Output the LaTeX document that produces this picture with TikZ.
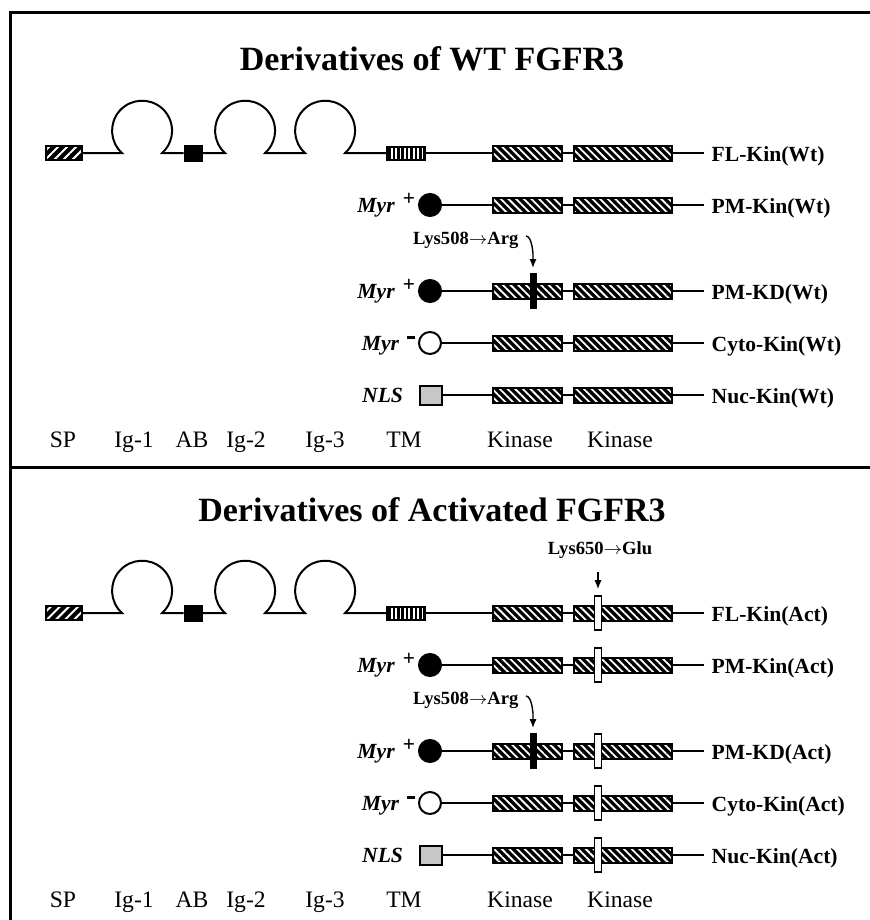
\documentclass[tikz,border=0pt]{standalone}
\usepackage{fontspec}
\setmainfont{Liberation Serif}
\usetikzlibrary{patterns.meta,arrows.meta}

\begin{document}
\begin{tikzpicture}[x=0.5pt, y=-0.5pt, line width=1pt, >={Latex[length=4.5pt,width=3.6pt]},
    kin/.style={draw, inner sep=0pt, minimum height=7.5pt, preaction={fill=black},
      preaction={pattern={Lines[angle=-45,distance=2.7pt,line width=0.9pt]}, pattern color=white}},
    spbox/.style={draw, inner sep=0pt, minimum width=18pt, minimum height=7pt, preaction={fill=black},
      preaction={pattern={Lines[angle=45,distance=3.2pt,line width=1pt]}, pattern color=white}},
    tmbox/.style={draw, inner sep=0pt, minimum width=19pt, minimum height=6.5pt, preaction={fill=black},
      preaction={pattern={Lines[angle=90,distance=2.2pt,line width=0.9pt]}, pattern color=white}},
    abbox/.style={draw, fill=black, inner sep=0pt, minimum width=8.5pt, minimum height=7.5pt},
    nlsbox/.style={draw, fill=black!22, inner sep=0pt, minimum width=11pt, minimum height=9.5pt},
    myr/.style={circle, draw, inner sep=0pt, minimum size=11pt},
    kdbar/.style={fill=black, inner sep=0pt, minimum width=3.5pt, minimum height=18pt},
    wbar/.style={draw, fill=white, line width=0.8pt, inner sep=0pt, minimum width=3.5pt, minimum height=17pt},
    lab/.style={anchor=base west, font=\bfseries\fontsize{10.8}{12}\selectfont},
    mod/.style={anchor=base east, inner sep=0pt, font=\bfseries\itshape\fontsize{10.8}{12}\selectfont},
    mut/.style={font=\bfseries\fontsize{9.3}{11}\selectfont},
    dlab/.style={anchor=base, font=\fontsize{11.8}{13}\selectfont},
    title/.style={font=\bfseries\fontsize{17}{20}\selectfont}]
  \useasboundingbox (0,0) rectangle (870,920);
  % frame
  \draw[line width=1.5pt] (870,13) -- (10,13) -- (10,921);
  \draw[line width=1.5pt] (10,467) -- (870,467);
  \foreach \s/\dy/\hd/\lbl/\ty in {w/0/WT/Wt/59, a/460/Activated/Act/50} {
    \begin{scope}[shift={(0,\dy)}]
      \node[title] (ttl\s) at (432,\ty) {Derivatives of \hd\ FGFR3};
      % full length receptor
      \node[spbox] (sp\s) at (64,153) {};
      \node[abbox] (ab\s) at (193,153) {};
      \node[tmbox] (tm\s) at (406,153) {};
      \coordinate (ig1\s) at (122,153);
      \coordinate (ig2\s) at (225,153);
      \coordinate (ig3\s) at (305,153);
      \draw (sp\s.east) -- (ig1\s) arc[start angle=132, end angle=408, radius=30] -- (ab\s.west);
      \draw (ab\s.east) -- (ig2\s) arc[start angle=132, end angle=408, radius=30]
        -- (ig3\s) arc[start angle=132, end angle=408, radius=30] -- (tm\s.west);
      % kinase domains
      \foreach \r/\y/\nm in {fl/153/FL-Kin, pm/205/PM-Kin, kd/291/PM-KD, cy/343/Cyto-Kin, nu/395/Nuc-Kin} {
        \node[kin, minimum width=34.5pt] (ka\r\s) at (527,\y) {};
        \node[kin, minimum width=49pt] (kb\r\s) at (623,\y) {};
        \coordinate (e\r\s) at (704,\y);
        \draw (ka\r\s.east) -- (kb\r\s.west);
        \draw (kb\r\s.east) -- (e\r\s) node[lab, yshift=-4pt] {\nm(\lbl)};
        \if\s a \node[wbar] (wb\r\s) at (598,\y) {}; \fi
      }
      \draw (tm\s.east) -- (kafl\s.west);
      % membrane / cytoplasm / nucleus targeting
      \node[myr, fill=black] (cpm\s) at (430,205) {};
      \node[mod] (mpm\s) at (416,212) {Myr\hspace{4pt}\raisebox{3.5pt}{+}};
      \node[myr, fill=black] (ckd\s) at (430,291) {};
      \node[mod] (mkd\s) at (416,298) {Myr\hspace{4pt}\raisebox{3.5pt}{+}};
      \node[myr, fill=white] (ccy\s) at (430,343) {};
      \node[mod] (mcy\s) at (416,350) {Myr\hspace{4pt}\rule[5.5pt]{4pt}{1.3pt}};
      \node[nlsbox] (nls\s) at (431,395) {};
      \node[mod] (mnu\s) at (404,402) {NLS};
      \draw (cpm\s) -- (kapm\s);
      \draw (ckd\s) -- (kakd\s);
      \draw (ccy\s) -- (kacy\s);
      \draw (nls\s) -- (kanu\s);
      % kinase dead point mutation
      \node[kdbar] (kd\s) at (533,291) {};
      \node[mut, anchor=east] (lys\s) at (526,240) {Lys508$\rightarrow$Arg};
      \coordinate (hk\s) at (533,252);
      \draw[->, line width=0.7pt, shorten >=2pt] ([yshift=2pt]lys\s.east) to[out=0, in=270] (hk\s) -- (kd\s.north);
      % domain names
      \foreach \x/\t in {63/SP, 134/Ig-1, 192/AB, 246/Ig-2, 325/Ig-3, 404/TM, 520/Kinase, 620/Kinase}
        \node[dlab] (d\x\s) at (\x,447) {\t};
    \end{scope}
  }
  % activating mutation
  \node[mut] (glu) at (600,550) {Lys650$\rightarrow$Glu};
  \draw[->, line width=0.7pt, shorten <=3pt, shorten >=3pt] (glu.south -| wbfla.north) -- (wbfla.north);
\end{tikzpicture}
\end{document}
